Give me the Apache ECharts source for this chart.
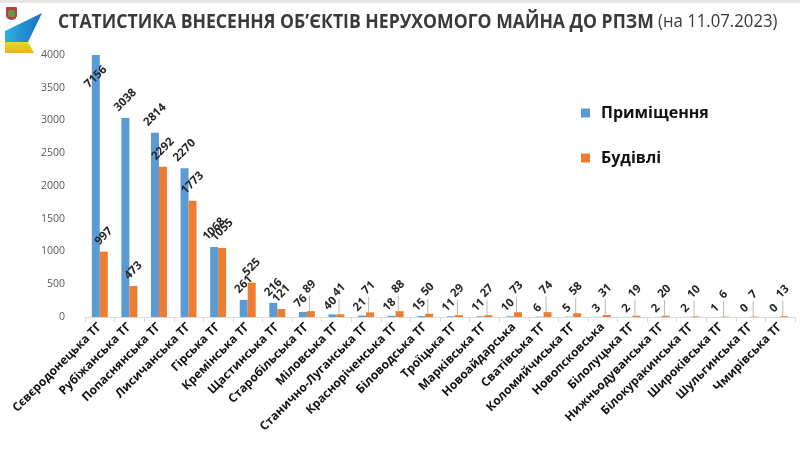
<!DOCTYPE html>
<html><head><meta charset="utf-8">
<script src="https://cdn.jsdelivr.net/npm/echarts@6/dist/echarts.min.js"></script>
<style>html,body{margin:0;padding:0;background:#fff}#c{width:800px;height:453px}</style>
</head><body><div id="c"></div>
<script>
var categories = ['Сєвєродонецька ТГ','Рубіжанська ТГ','Попаснянська ТГ','Лисичанська ТГ','Гірська ТГ','Кремінська ТГ','Щастинська ТГ','Старобільська ТГ','Міловська ТГ','Станично-Луганська ТГ','Красноріченська ТГ','Біловодська ТГ','Троїцька ТГ','Марківська ТГ','Новоайдарська','Сватівська ТГ','Коломийчиська ТГ','Новопсковська','Білолуцька ТГ','Нижньодуванська ТГ','Білокуракинська ТГ','Широківська ТГ','Шульгинська ТГ','Чмирівська ТГ'];
var premises = [7156,3038,2814,2270,1068,261,216,76,40,21,18,15,11,11,10,6,5,3,2,2,2,1,0,0];
var buildings = [997,473,2292,1773,1055,525,121,89,41,71,88,50,29,27,73,74,58,31,19,20,10,6,7,13];
var yTicks = {min:0, max:4000, interval:500};
var titleMain = 'СТАТИСТИКА ВНЕСЕННЯ ОБ’ЄКТІВ НЕРУХОМОГО МАЙНА ДО РПЗМ';
var titleDate = ' (на 11.07.2023)';

function items(arr, leader){
  return arr.map(function(v){
    var n = String(v).length;
    var lab = {distance: 4 + 0.354*(n*6.8+12)};
    if (v > yTicks.max) { lab = {position:'insideTop', distance:22}; }
    var it = {value:v, label:lab};
    if (leader && v < 100) { it.labelLine = {show:true}; }
    return it;
  });
}
function shift(series, small){
  return function(p){
    var v = (series === 0 ? premises : buildings)[p.dataIndex];
    if (v < 100) return small;
    return {};
  };
}
var chart = echarts.init(document.getElementById('c'));
var labelCommon = {show:true, position:'top', rotate:45, align:'center', verticalAlign:'middle',
  fontFamily:'Open Sans', fontWeight:'bold', fontSize:11.5, color:'#262626'};
chart.setOption({
  animation:false,
  textStyle:{fontFamily:'Open Sans'},
  grid:{left:85, right:5, top:55, bottom:136},
  legend:{orient:'vertical', left:576, top:100, itemWidth:9, itemHeight:9, itemGap:29, icon:'rect',
    textStyle:{fontFamily:'Open Sans', fontWeight:'bold', fontSize:16, color:'#111', padding:[0,0,0,6]}},
  xAxis:{type:'category', data:categories,
    axisLine:{lineStyle:{color:'#d9d9d9'}},
    axisTick:{show:true, length:5, lineStyle:{color:'#d9d9d9'}},
    axisLabel:{rotate:45, interval:0, margin:8, fontFamily:'Open Sans', fontWeight:'bold', fontSize:12, color:'#111'}},
  yAxis:{type:'value', min:yTicks.min, max:yTicks.max, interval:yTicks.interval,
    splitLine:{show:false}, axisLine:{show:false}, axisTick:{show:false},
    axisLabel:{margin:20, fontSize:10.5, color:'#595959', fontFamily:'Open Sans',
      formatter:function(v){return String(v);}}},
  series:[
    {name:'Приміщення', type:'bar', data:items(premises,false), barGap:'0%', barCategoryGap:'46%', clip:true,
      itemStyle:{color:'#5B9BD5'}, label:labelCommon, labelLayout:shift(0,{dx:-3,dy:0})},
    {name:'Будівлі', type:'bar', data:items(buildings,true), clip:true,
      itemStyle:{color:'#ED7D31'}, label:labelCommon, labelLayout:shift(1,{dx:7,dy:-9}),
      labelLine:{show:false, lineStyle:{color:'#a6a6a6', width:0.8}}}
  ],
  graphic:[
    {type:'rect', shape:{x:0,y:0,width:800,height:3}, style:{fill:'#e6e6e6'}},
    {type:'polygon', shape:{points:[[5,31],[42,13],[28,42],[5,42]]},
      style:{fill:new echarts.graphic.LinearGradient(0,0,1,0,[{offset:0,color:'#2ab0e0'},{offset:1,color:'#1f6fc0'}])}},
    {type:'polygon', shape:{points:[[5,42],[28,42],[34,53],[5,53]]},
      style:{fill:new echarts.graphic.LinearGradient(0,0,0,1,[{offset:0,color:'#f3d23a'},{offset:1,color:'#e8b020'}])}},
    {type:'rect', shape:{x:6,y:7,width:11,height:13,r:[1,1,5,5]}, style:{fill:'#c23b3b'}},
    {type:'rect', shape:{x:8,y:10,width:7,height:7,r:2}, style:{fill:'#5e9b4a'}},
    {type:'text', left:58, top:12, scaleX:0.88, originX:58,
      style:{rich:{b:{fontFamily:'Open Sans', fontWeight:'bold', fontSize:20, fill:'#3a3a3a'},
                   n:{fontFamily:'Open Sans', fontWeight:'normal', fontSize:19, fill:'#3a3a3a'}},
             text:'{b|'+titleMain+'}{n|'+titleDate+'}'}}
  ]
});
</script></body></html>
